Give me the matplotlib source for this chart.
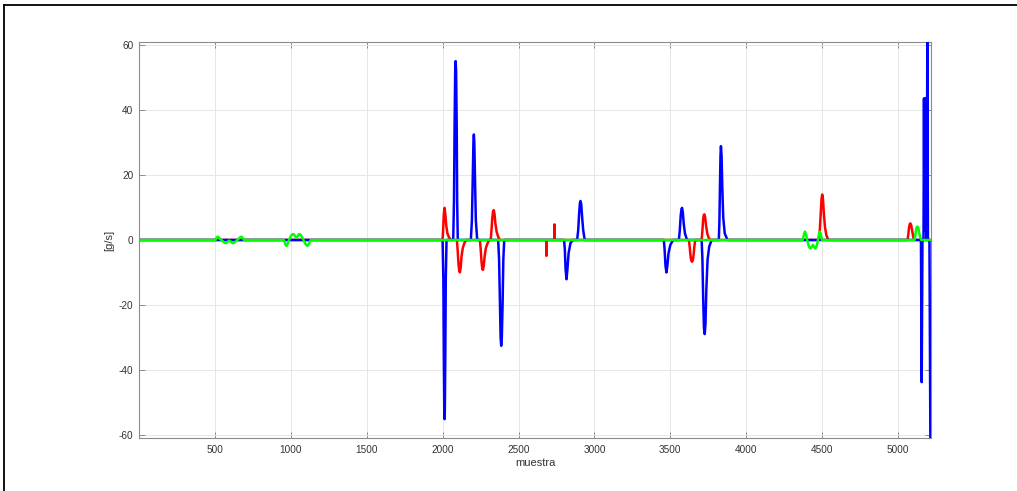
import matplotlib
matplotlib.use("Agg")
import matplotlib.pyplot as plt
from matplotlib.lines import Line2D

plt.rcParams["font.family"] = ["Liberation Sans", "DejaVu Sans"]
plt.rcParams["axes.unicode_minus"] = False

# Sample range of the record
n_first = 1
n_last = 5216

# Series 1 (red): breakpoints of the signal, sample index / value
red_x = [1,
         2000, 2004, 2008, 2013, 2018, 2024, 2032, 2043, 2057,
         2094, 2099, 2105, 2110, 2114, 2119, 2125, 2133, 2143, 2156,
         2246, 2251, 2257, 2262, 2266, 2271, 2277, 2285, 2296, 2308,
         2317, 2322, 2327, 2332, 2337, 2342, 2348, 2356, 2366, 2378,
         2682, 2684, 2686,
         2735, 2737, 2739,
         3622, 3628, 3634, 3639, 3643, 3648, 3653, 3658, 3664,
         3706, 3711, 3716, 3720, 3724, 3729, 3735, 3743, 3752, 3764,
         4478, 4484, 4490, 4495, 4500, 4505, 4511, 4518, 4527, 4540,
         5062, 5067, 5072, 5077, 5081, 5086, 5092, 5098, 5105,
         5216]
red_y = [0,
         0, 3.5, 8.0, 9.9, 8.0, 4.5, 2.0, 0.7, 0,
         0, -3.0, -7.5, -9.6, -10.0, -8.5, -5.0, -2.5, -1.0, 0,
         0, -3.0, -7.0, -9.0, -9.2, -8.0, -5.0, -2.5, -1.0, 0,
         0, 3.0, 6.5, 8.7, 9.2, 8.0, 5.0, 2.5, 1.0, 0,
         0, -4.9, 0,
         0, 4.8, 0,
         0, -2.5, -5.5, -6.5, -6.7, -6.2, -4.5, -2.0, 0,
         0, 3.0, 6.5, 7.7, 7.9, 7.0, 4.5, 2.0, 0.7, 0,
         0, 3.0, 8.0, 12.5, 14.0, 12.5, 8.0, 4.0, 1.5, 0,
         0, 1.8, 4.0, 5.0, 5.1, 4.5, 3.0, 1.2, 0,
         0]

# Series 2 (blue)
blue_x = [1,
          2000, 2005, 2008, 2011, 2013, 2015, 2018, 2021, 2026,
          2070, 2075, 2079, 2083, 2086, 2089, 2093, 2096, 2100,
          2186, 2193, 2199, 2203, 2206, 2209, 2213, 2219, 2228,
          2366, 2372, 2378, 2382, 2386, 2390, 2395, 2400, 2406,
          2800, 2805, 2810, 2816, 2822, 2830, 2842, 2858,
          2886, 2893, 2899, 2904, 2908, 2913, 2919, 2926, 2936,
          3457, 3462, 3468, 3474, 3480, 3488, 3500, 3518,
          3556, 3562, 3568, 3573, 3577, 3582, 3588, 3596, 3610,
          3706, 3711, 3716, 3721, 3726, 3731, 3737, 3745, 3756, 3772,
          3819, 3823, 3827, 3830, 3833, 3837, 3842, 3848, 3858, 3876,
          5150, 5155, 5160,
          5167, 5170, 5173, 5176, 5179, 5182, 5185,
          5188, 5192, 5196,
          5206, 5212, 5216]
blue_y = [0,
          0, -12.0, -35.0, -52.0, -55.2, -52.0, -35.0, -12.0, 0,
          0, 12.0, 35.0, 52.0, 55.1, 52.0, 35.0, 12.0, 0,
          0, 6.0, 20.0, 30.0, 32.5, 30.0, 20.0, 6.0, 0,
          0, -6.0, -20.0, -30.0, -32.6, -30.0, -20.0, -6.0, 0,
          0, -3.0, -9.0, -12.1, -9.0, -4.0, -1.0, 0,
          0, 3.0, 8.0, 11.3, 12.0, 11.0, 7.0, 3.0, 0,
          0, -3.0, -8.0, -10.0, -8.0, -4.0, -1.5, 0,
          0, 3.0, 7.5, 9.5, 9.9, 8.5, 5.0, 2.0, 0,
          0, -6.0, -18.0, -27.0, -29.0, -26.0, -15.0, -6.0, -2.0, 0,
          0, 6.0, 18.0, 26.0, 28.9, 26.0, 16.0, 7.0, 2.0, 0,
          0, -43.8, 0,
          0, 43.6, 3.0, 43.6, 3.0, 43.6, 0,
          0, 61.0, 0,
          0, -61.0, -61.0]

# Series 3 (green)
green_x = [1,
           505, 511, 518, 526, 535, 544, 553, 563, 572, 582, 590, 596,
           603, 611, 620, 629, 640, 649, 658, 667, 675, 683, 692,
           955, 961, 966, 972, 978, 984, 990, 997, 1004, 1011, 1018,
           1025, 1031, 1037, 1043, 1049, 1054, 1059, 1066, 1073, 1080,
           1087, 1094, 1101, 1110, 1118, 1125, 1132,
           4372, 4379, 4386, 4393, 4400, 4408, 4416, 4424, 4431, 4439,
           4446, 4454, 4461, 4468, 4475, 4480, 4484, 4489, 4494, 4499,
           5108, 5113, 5118, 5123, 5128, 5133, 5138, 5144, 5152,
           5216]
green_y = [0,
           0, 0.7, 1.0, 0.8, 0.3, 0, -0.4, -0.8, -1.0, -0.7, -0.3, -0.2,
           -0.4, -0.8, -1.0, -0.8, -0.3, 0, 0.4, 0.8, 1.0, 0.7, 0,
           0, -0.8, -1.5, -1.8, -1.4, -0.6, 0.2, 0.9, 1.4, 1.75, 1.8,
           1.5, 1.0, 0.7, 1.0, 1.5, 1.75, 1.8, 1.5, 1.0, 0.4,
           -0.3, -0.9, -1.5, -1.8, -1.4, -0.6, 0,
           0, 1.6, 2.6, 1.8, 0.2, -1.4, -2.4, -2.6, -2.1, -1.5,
           -2.1, -2.6, -2.2, -0.9, 0.9, 2.1, 2.6, 2.1, 0.9, 0,
           0, 1.5, 3.2, 4.0, 4.1, 3.6, 2.4, 1.0, 0,
           0]

x_ticks = [500, 1000, 1500, 2000, 2500, 3000, 3500, 4000, 4500, 5000]
y_ticks = [-60, -40, -20, 0, 20, 40, 60]
y_limits = (-61, 61)

fig = plt.figure(figsize=(10.17, 4.91), dpi=100)
ax = fig.add_axes([0.1367, 0.108, 0.7787, 0.8065])

lw = 1.8
ax.plot(red_x, red_y, color="#ff0000", linewidth=lw, zorder=3)
ax.plot(blue_x, blue_y, color="#0000ff", linewidth=lw, zorder=4)
ax.plot(green_x, green_y, color="#00ff00", linewidth=lw, zorder=5)

ax.set_xlim(n_first, n_last)
ax.set_ylim(*y_limits)
ax.set_xticks(x_ticks)
ax.set_yticks(y_ticks)

axis_grey = "#8c8c8c"
for s in ax.spines.values():
    s.set_color(axis_grey)
    s.set_linewidth(0.8)
ax.tick_params(direction="in", top=True, right=True, length=4, width=0.7,
               color=axis_grey, labelcolor="#333333", labelsize=7.2)
ax.tick_params(axis="x", pad=5)
ax.tick_params(axis="y", pad=4)
ax.grid(True, color="#e6e6e6", linewidth=0.7)
ax.set_axisbelow(True)

ax.set_xlabel("muestra", fontsize=8, color="#333333", labelpad=2)
ax.set_ylabel("[g/s]", fontsize=8, color="#333333", labelpad=3)

# Outer frame lines along the top and left edge of the figure
fig.add_artist(Line2D([3.5 / 1017, 1.0], [1 - 4.5 / 491, 1 - 4.5 / 491],
                      transform=fig.transFigure, color="black", linewidth=1.3))
fig.add_artist(Line2D([3.5 / 1017, 3.5 / 1017], [0.0, 1 - 4.5 / 491],
                      transform=fig.transFigure, color="black", linewidth=1.3))

fig.savefig("out.png", dpi=100)
